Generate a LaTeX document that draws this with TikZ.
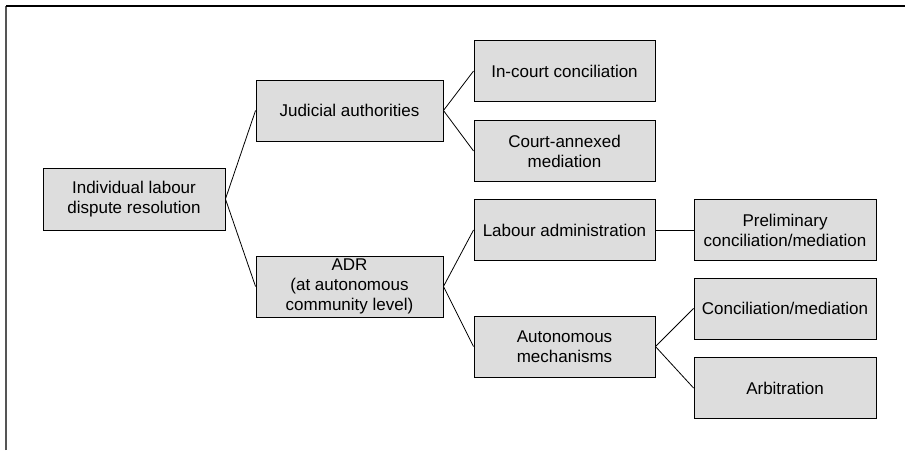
\documentclass[tikz,border=0pt]{standalone}
\usepackage{fontspec}
\setmainfont{Liberation Sans}
\definecolor{boxgray}{HTML}{DDDDDD}
\definecolor{framegray}{HTML}{555555}

\tikzset{
  box/.style={draw,fill=boxgray,line width=0.9pt,minimum width=181pt,minimum height=61pt,
    inner sep=0pt,align=center,font=\fontsize{17}{20}\selectfont},
  link/.style={line width=0.8pt}
}

\begin{document}
\begin{tikzpicture}[x=1pt,y=-1pt]

          \useasboundingbox (0,0) rectangle (905,450);

          % frame
          \draw[framegray,line width=2pt] (6,450)--(6,6);
          \draw[line width=1.2pt] (6,6)--(905,6);

          \node[box,minimum width=182pt,minimum height=62pt] (root) at (134,199) {Individual labour\\dispute resolution};

          \node[box,minimum width=187pt] (judicial) at (349.5,110.5) {Judicial authorities};
          \node[box,minimum width=187pt] (adr) at (349.5,286.5) {ADR\\(at autonomous\\community level)};

          \node[box] (incourt) at (564.5,71) {In-court conciliation};
          \node[box] (annexed) at (564.5,151) {Court-annexed\\mediation};
          \node[box] (labadmin) at (564.5,230) {Labour administration};
          \node[box] (autmech) at (564.5,346.5) {Autonomous\\mechanisms};

          \node[box,minimum width=182pt] (prelim) at (785,230) {Preliminary\\conciliation/mediation};
          \node[box,minimum width=182pt] (concmed) at (785,308.5) {Conciliation/mediation};
          \node[box,minimum width=182pt] (arbitr) at (785,388) {Arbitration};

          \foreach \from/\to in {root/judicial,root/adr,judicial/incourt,judicial/annexed,
            adr/labadmin,adr/autmech,labadmin/prelim,autmech/concmed,autmech/arbitr}{
            \draw[link] (\from.east)--(\to.west);
          }

        \end{tikzpicture}
\end{document}
